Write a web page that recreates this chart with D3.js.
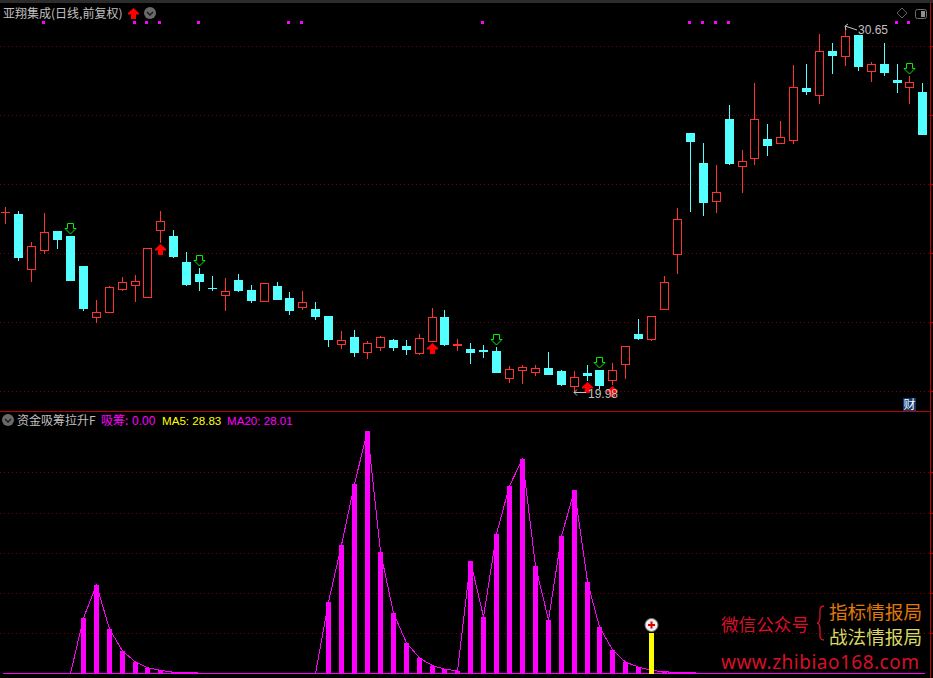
<!DOCTYPE html>
<html>
<head>
<meta charset="utf-8">
<title>亚翔集成</title>
<script src="https://cdn.jsdelivr.net/npm/d3@7"></script>
<style>
    html, body { margin: 0; padding: 0; background: #000; overflow: hidden; }
    svg { display: block; }
    text { font-family: "Liberation Sans", "Noto Sans CJK SC", sans-serif; font-size: 12px; }
    .cjk { font-family: "Noto Sans CJK SC", sans-serif; }
</style>
</head>
<body>
<div id="chart"></div>
<script>
// Daily candles
const opens = [25.23,25.18,23.58,24.13,24.68,24.54,23.66,22.17,22.32,22.99,23.11,22.76,24.72,24.54,23.78,23.42,23.01,22.82,23.25,22.96,22.64,23.07,22.72,22.47,22.40,22.19,21.38,21.58,21.15,21.28,21.48,21.32,21.12,21.47,22.17,21.36,21.23,21.19,21.17,20.37,20.62,20.56,20.67,20.59,20.16,20.52,20.61,20.33,20.80,21.67,21.51,22.41,24.02,27.55,26.67,25.57,27.96,26.59,26.83,27.37,27.25,27.35,28.87,28.67,29.95,29.81,30.42,29.37,29.57,29.10,28.90,28.75];
const closes = [25.23,23.93,24.23,24.64,24.46,23.26,22.44,22.30,23.03,23.18,23.21,24.18,24.97,23.95,23.13,23.22,23.00,22.92,22.96,22.66,23.15,22.69,22.37,22.60,22.19,21.52,21.48,21.14,21.40,21.57,21.28,21.23,21.54,22.16,21.38,21.39,21.14,21.18,20.56,20.64,20.69,20.66,20.50,20.21,20.40,20.47,20.18,20.61,21.31,21.55,22.19,23.18,25.02,27.31,25.53,25.81,26.68,26.72,27.95,27.20,27.42,28.89,28.78,29.94,29.83,30.38,29.51,29.56,29.33,29.05,29.03,27.52];
const highs = [25.38,25.27,24.36,25.21,24.68,24.54,23.66,22.66,23.06,23.34,23.39,24.18,25.27,24.71,24.07,23.60,23.37,23.31,23.42,23.10,23.15,23.19,22.90,22.93,22.60,22.19,21.76,21.79,21.46,21.61,21.52,21.49,21.67,22.43,22.37,21.52,21.41,21.35,21.29,20.73,20.76,20.76,21.14,20.61,20.59,20.76,20.61,20.82,21.31,22.11,22.19,23.37,25.35,27.55,27.26,26.61,28.37,27.05,29.00,27.81,27.90,29.54,29.57,30.45,30.18,30.65,30.42,29.63,30.18,29.57,29.22,29.01];
const lows = [24.92,23.84,23.23,24.04,24.18,23.26,22.38,22.03,22.32,22.96,22.63,22.76,24.37,23.92,23.10,22.96,22.96,22.37,22.93,22.60,22.64,22.69,22.25,22.40,22.11,21.32,21.26,21.03,20.97,21.20,21.20,21.08,21.09,21.46,21.35,21.20,20.82,21.00,20.56,20.26,20.23,20.47,20.50,20.18,19.98,20.32,20.09,20.21,20.38,21.52,21.49,22.41,23.45,25.27,25.15,25.24,26.64,25.83,26.65,26.91,27.25,27.26,28.69,28.44,29.30,29.54,29.39,29.07,29.25,28.75,28.43,27.52];

// Signal rows (candle indexes)
const topDots = [3,10,11,12,15,22,23,37,53,54,55,56,69,70];
const upArrows = [12,33,45,47];
const downArrows = [5,15,38,46,70];

// Lower panel
const inflow = [0,0,0,0,0,0,27.6,44,22.1,11.2,5.7,2.9,1.6,0.6,0.6,0.2,0,0,0,0,0,0,0,0,0,35.5,63.9,94.2,120.5,60.4,30,15.2,7.7,3.9,2.2,1.2,55.9,28.1,69.3,93.2,106.6,53.4,26.6,68.3,91.2,45.5,23.1,11.7,5.7,3.2,1.6,0.8,0.6,0.4,0,0,0,0,0,0,0,0,0,0,0,0,0,0,0,0,0,0];
const signalIndex = [50];
const signalValue = [20];

// Grid levels
const priceTicks = [30.09,28.07,26.05,24.03,22.01,19.99];
const inflowTicks = [20,40,60,80,100];

const priceHigh = 30.65, priceLow = 19.98;

const width = 933, height = 678;
const red = "#ff3232", cyan = "#54ffff", magenta = "#ff00ff", gridColor = "#780000", lineRed = "#c00000", gray = "#c0c0c0";

const svg = d3.select("#chart").append("svg")
    .attr("width", width)
    .attr("height", height)
    .style("background", "#000");

const x = d3.scalePoint().domain(opens.map((d, i) => i)).range([5.35, 922.35]);
const yPrice = d3.scaleLinear().domain([priceLow, priceHigh]).range([391.7, 27]);
const yInflow = d3.scaleLinear().domain([0, 120]).range([673.5, 432]);

const col = i => Math.round(x(i));
const py = v => Math.round(yPrice(v));

// Frame
svg.append("rect").attr("width", width).attr("height", 3).attr("fill", "#2c2c2c");
svg.append("line").attr("x1", 0).attr("x2", 930).attr("y1", 411.5).attr("y2", 411.5).attr("stroke", lineRed);
svg.append("line").attr("x1", 930.5).attr("x2", 930.5).attr("y1", 3).attr("y2", height).attr("stroke", lineRed);

// Dotted grids, done with axes, plus the short ticks right of the frame
function grid(scale, ticks) {
    const g = svg.append("g")
        .call(d3.axisRight(scale).tickValues(ticks).tickSize(930).tickFormat(""));
    g.select(".domain").remove();
    g.selectAll(".tick")
        .attr("transform", d => `translate(0,${Math.round(scale(d)) + 0.5})`);
    g.selectAll(".tick line")
        .attr("stroke", gridColor)
        .attr("stroke-dasharray", "1,3");
    const t = svg.append("g")
        .attr("transform", "translate(930,0)")
        .call(d3.axisRight(scale).tickValues(ticks).tickSize(3).tickFormat(""));
    t.select(".domain").remove();
    t.selectAll(".tick")
        .attr("transform", d => `translate(0,${Math.round(scale(d)) + 0.5})`);
    t.selectAll(".tick line").attr("stroke", lineRed);
}
grid(yPrice, priceTicks);
grid(yInflow, inflowTicks);

// Candles
const candles = svg.append("g").attr("shape-rendering", "crispEdges");
opens.forEach((open, i) => {
    const close = closes[i];
    const up = close >= open;
    const color = up ? red : cyan;
    const c = col(i);
    const top = py(Math.max(open, close)), bottom = py(Math.min(open, close));

    candles.append("line")
        .attr("x1", c + 0.5).attr("x2", c + 0.5)
        .attr("y1", py(highs[i])).attr("y2", py(lows[i]) + 1)
        .attr("stroke", color);

    if (bottom - top <= 1) {
        candles.append("rect")
            .attr("x", c - 4).attr("y", top)
            .attr("width", 9).attr("height", bottom - top + 1)
            .attr("fill", color);
    } else if (up) {
        candles.append("rect")
            .attr("x", c - 3.5).attr("y", top + 0.5)
            .attr("width", 8).attr("height", bottom - top)
            .attr("fill", "#000")
            .attr("stroke", color);
    } else {
        candles.append("rect")
            .attr("x", c - 4).attr("y", top)
            .attr("width", 9).attr("height", bottom - top + 1)
            .attr("fill", color);
    }
});

// Signal dots along the top
svg.append("g").attr("shape-rendering", "crispEdges").selectAll("rect")
    .data(topDots)
    .join("rect")
    .attr("x", d => col(d) - 2)
    .attr("y", 21)
    .attr("width", 3)
    .attr("height", 3)
    .attr("fill", magenta);

// Arrows
const upPath = "M0.5,0L6,5L6,6.5L3,6.5L3,11L-2,11L-2,6.5L-5,6.5L-5,5Z";
const downPath = "M-2.5,0.5L3.5,0.5L3.5,5.5L6,5.5L0.5,11L-5,5.5L-2.5,5.5Z";

svg.append("g").selectAll("path")
    .data(upArrows)
    .join("path")
    .attr("d", upPath)
    .attr("transform", d => `translate(${col(d)},${py(lows[d]) + 2})`)
    .attr("fill", "#ff0000");

svg.append("g").selectAll("path")
    .data(downArrows)
    .join("path")
    .attr("d", downPath)
    .attr("transform", d => `translate(${col(d)},${py(highs[d]) - 13})`)
    .attr("fill", "none")
    .attr("stroke", "#00f000");

// High / low notes
const lowIdx = lows.indexOf(priceLow), highIdx = highs.indexOf(priceHigh);
svg.append("path")
    .attr("d", `M${col(lowIdx) + 12},${py(priceLow) + 0.5}H${col(lowIdx)}M${col(lowIdx) + 3},${py(priceLow) - 2.5}L${col(lowIdx)},${py(priceLow) + 0.5}L${col(lowIdx) + 3},${py(priceLow) + 3.5}`)
    .attr("fill", "none").attr("stroke", gray);
svg.append("text").attr("x", col(lowIdx) + 14).attr("y", py(priceLow) + 6).attr("fill", gray).text(priceLow.toFixed(2));
svg.append("path")
    .attr("d", `M${col(highIdx) + 12},${py(priceHigh) + 3}L${col(highIdx)},${py(priceHigh) - 1}M${col(highIdx) + 3},${py(priceHigh) - 3}L${col(highIdx)},${py(priceHigh) - 1}L${col(highIdx) + 1},${py(priceHigh) + 3}`)
    .attr("fill", "none").attr("stroke", gray);
svg.append("text").attr("x", col(highIdx) + 13).attr("y", py(priceHigh) + 7).attr("fill", gray).text(priceHigh.toFixed(2));

// Lower panel bars and line
svg.append("g").attr("shape-rendering", "crispEdges").selectAll("rect")
    .data(inflow.map((v, i) => ({v, i})).filter(d => d.v > 0))
    .join("rect")
    .attr("x", d => col(d.i) - 2)
    .attr("y", d => Math.round(yInflow(d.v)))
    .attr("width", 5)
    .attr("height", d => 674 - Math.round(yInflow(d.v)))
    .attr("fill", magenta);

svg.append("path")
    .datum(inflow)
    .attr("d", d3.line().x((d, i) => col(i) + 0.5).y(d => Math.min(yInflow(d), 673.5)))
    .attr("fill", "none")
    .attr("stroke", magenta)
    .attr("shape-rendering", "crispEdges");

// Zero line runs a little past the first and last candle
svg.append("line").attr("x1", 3).attr("x2", 925).attr("y1", 673.5).attr("y2", 673.5)
    .attr("stroke", magenta).attr("shape-rendering", "crispEdges");

// Yellow signal bar with the plus badge
signalIndex.forEach((idx, k) => {
    const c = col(idx), top = Math.round(yInflow(signalValue[k]));
    svg.append("rect").attr("x", c - 2).attr("y", top).attr("width", 5).attr("height", 674 - top).attr("fill", "#ffff00");
    svg.append("circle").attr("cx", c + 0.5).attr("cy", top - 8).attr("r", 6.5).attr("fill", "#eeeeee").attr("stroke", "#777");
    svg.append("path")
        .attr("d", `M${c - 3},${top - 8}H${c + 4}M${c + 0.5},${top - 11.5}V${top - 4.5}`)
        .attr("stroke", "#e00000").attr("stroke-width", 2);
});

// Header of the price panel
svg.append("text").attr("class", "cjk").attr("x", 3).attr("y", 18).attr("fill", gray).text("亚翔集成(日线,前复权)");
svg.append("path").attr("d", upPath).attr("transform", "translate(133,8)").attr("fill", "#ff0000");

function chevronButton(cx, cy) {
    svg.append("circle").attr("cx", cx).attr("cy", cy).attr("r", 6).attr("fill", "#6a6a6a");
    svg.append("path").attr("d", `M${cx - 3},${cy - 1}L${cx},${cy + 2}L${cx + 3},${cy - 1}`)
        .attr("fill", "none").attr("stroke", "#1a1a1a").attr("stroke-width", 1.4);
}
chevronButton(150, 13);
chevronButton(8, 420);

// Top right icons
svg.append("path").attr("d", "M902,8L907,13L902,18L897,13Z").attr("fill", "none").attr("stroke", "#606060");
svg.append("rect").attr("x", 915.5).attr("y", 9.5).attr("width", 11).attr("height", 9).attr("rx", 2).attr("fill", "none").attr("stroke", "#707070");
svg.append("rect").attr("x", 921).attr("y", 11).attr("width", 4).attr("height", 6).attr("fill", "#909090");

// 财 badge
svg.append("rect").attr("x", 903).attr("y", 398).attr("width", 13).attr("height", 13).attr("fill", "#0a3a6e");
svg.append("text").attr("class", "cjk").attr("x", 903.5).attr("y", 409).attr("fill", "#fff").text("财");

// Lower panel legend
svg.append("text").attr("class", "cjk").attr("x", 17).attr("y", 425).attr("fill", gray).text("资金吸筹拉升F");
svg.append("text").attr("class", "cjk").attr("x", 101).attr("y", 425).attr("fill", magenta).text("吸筹:");
svg.append("text").attr("x", 132).attr("y", 425).attr("fill", magenta).text("0.00");
svg.append("text").attr("x", 162).attr("y", 425).attr("fill", "#ffff00").style("font-size", "11.6px").text("MA5: 28.83");
svg.append("text").attr("x", 227).attr("y", 425).attr("fill", magenta).style("font-size", "11.6px").text("MA20: 28.01");

// Watermark
svg.append("text").attr("class", "cjk").attr("x", 721).attr("y", 631).attr("fill", "#d80f28").style("font-size", "17.6px").text("微信公众号");
svg.append("path")
    .attr("d", "M824,606C819,606 820,610 820,616C820,621 819,623 817,623C819,623 820,625 820,630C820,636 819,640 824,640")
    .attr("fill", "none").attr("stroke", "#d80f28").attr("stroke-width", 1.3);
svg.append("text").attr("class", "cjk").attr("x", 829).attr("y", 619).attr("fill", "#e07a0a").style("font-size", "18.6px").text("指标情报局");
svg.append("text").attr("class", "cjk").attr("x", 829).attr("y", 644).attr("fill", "#d9d860").style("font-size", "18.6px").text("战法情报局");
svg.append("text").attr("x", 721).attr("y", 669)
    .attr("fill", "#d80f28")
    .attr("textLength", 198)
    .style("font-family", "'Noto Sans', sans-serif")
    .style("font-size", "19px")
    .text("www.zhibiao168.com");
</script>
</body>
</html>
